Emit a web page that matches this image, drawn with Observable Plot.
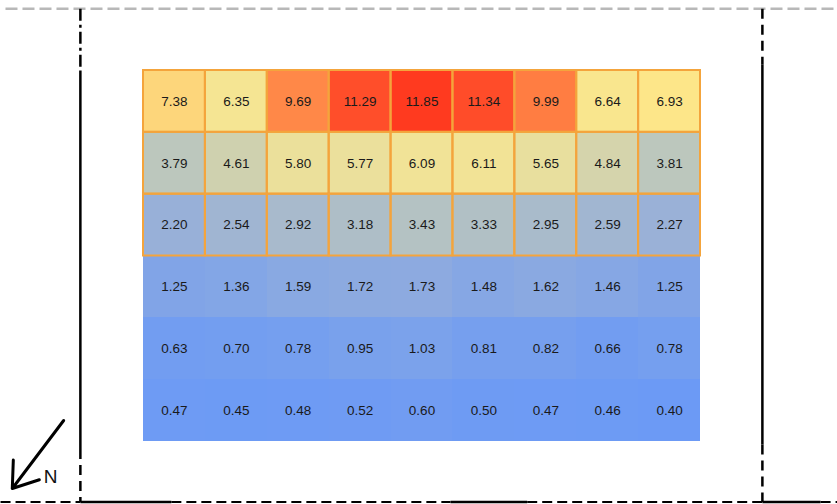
<!DOCTYPE html>
<html>
<head>
<meta charset="utf-8">
<script src="https://cdn.jsdelivr.net/npm/d3@7"></script>
<script src="https://cdn.jsdelivr.net/npm/@observablehq/plot@0.6"></script>
<style>
  html, body { margin: 0; padding: 0; background: #fff; }
  #chart svg { display: block; }
</style>
</head>
<body>
<div id="chart"></div>
<script>
// Grid values, top row to bottom row, 9 columns each
const row0 = [7.38, 6.35, 9.69, 11.29, 11.85, 11.34, 9.99, 6.64, 6.93];
const row1 = [3.79, 4.61, 5.80, 5.77, 6.09, 6.11, 5.65, 4.84, 3.81];
const row2 = [2.20, 2.54, 2.92, 3.18, 3.43, 3.33, 2.95, 2.59, 2.27];
const row3 = [1.25, 1.36, 1.59, 1.72, 1.73, 1.48, 1.62, 1.46, 1.25];
const row4 = [0.63, 0.70, 0.78, 0.95, 1.03, 0.81, 0.82, 0.66, 0.78];
const row5 = [0.47, 0.45, 0.48, 0.52, 0.60, 0.50, 0.47, 0.46, 0.40];
const rows = [row0, row1, row2, row3, row4, row5];
const outlinedRows = [0, 1, 2];

// Colour ramp stops
const colorStops = [0.4, 2.2, 3.8, 6.0, 6.9, 7.4, 9.8, 11.85];
const colorRamp = ["#6c9af5", "#98b0d8", "#bcc7bd", "#f0e398", "#fde78a", "#fdd57a", "#ff8446", "#ff3a1f"];

// Frame lines in grid units (columns / rows)
const solidSegs = [
  {x1: -1.02, y1: 0, x2: -1.02, y2: 6.12},
  {x1: 10, y1: -0.1, x2: 10, y2: 6.05},
  {x1: -1.02, y1: 6.98, x2: 0.45, y2: 6.98},
  {x1: 4.96, y1: 6.98, x2: 6.2, y2: 6.98},
  {x1: 10, y1: 6.98, x2: 10.94, y2: 6.98}
];
const dashedSegs = [
  {x1: -1.02, y1: 6.12, x2: -1.02, y2: 6.98},
  {x1: 10, y1: -1, x2: 10, y2: -0.1},
  {x1: 10, y1: 6.05, x2: 10, y2: 6.98}
];
const bottomDashed = [
  {x1: -2.31, y1: 6.98, x2: -1.02, y2: 6.98},
  {x1: 0.45, y1: 6.98, x2: 4.96, y2: 6.98},
  {x1: 6.2, y1: 6.98, x2: 10, y2: 6.98},
  {x1: 10.94, y1: 6.98, x2: 11.3, y2: 6.98}
];
const dashDotSegs = [{x1: -1.02, y1: -1, x2: -1.02, y2: 0}];
const grayTop = [{x1: -2.23, y1: -1, x2: 11.3, y2: -1}];
const northArrow = [{x1: -1.29, y1: 5.66, x2: -2.12, y2: 6.76}];
const northLabel = [{x: -1.5, y: 6.57, label: "N"}];

const cells = [];
rows.forEach((r, ri) => r.forEach((v, ci) => cells.push({row: ri, col: ci, value: v})));

const cw = 557 / 9, ch = 371 / 6;
const W = 837, H = 504;

const chart = Plot.plot({
  width: W, height: H,
  marginTop: 0, marginRight: 0, marginBottom: 0, marginLeft: 0,
  x: {domain: [-143 / cw, (W - 143) / cw], axis: null},
  y: {domain: [-70 / ch, (H - 70) / ch], reverse: true, axis: null},
  color: {type: "linear", domain: colorStops, range: colorRamp, interpolate: "rgb"},
  marks: [
    Plot.rect(cells, {x1: "col", x2: d => d.col + 1, y1: "row", y2: d => d.row + 1, fill: "value", inset: 0, shapeRendering: "crispEdges"}),
    Plot.rect(cells.filter(d => outlinedRows.includes(d.row)), {
      x1: "col", x2: d => d.col + 1, y1: "row", y2: d => d.row + 1,
      fill: "none", stroke: "#f4a43c", strokeWidth: 2, inset: 0
    }),
    Plot.text(cells, {
      x: d => d.col + 0.5, y: d => d.row + 0.5, text: d => d.value.toFixed(2),
      fill: "#1a1a1a", fontSize: 13.5, fontFamily: "Liberation Sans, Arial, sans-serif"
    }),
    Plot.link(grayTop, {x1: "x1", y1: "y1", x2: "x2", y2: "y2", stroke: "#b8b8b8", strokeWidth: 2.5, strokeDasharray: "12,5"}),
    Plot.link(solidSegs, {x1: "x1", y1: "y1", x2: "x2", y2: "y2", stroke: "#000", strokeWidth: 2.5}),
    Plot.link(dashedSegs, {x1: "x1", y1: "y1", x2: "x2", y2: "y2", stroke: "#000", strokeWidth: 2.5, strokeDasharray: "10,6"}),
    Plot.link(bottomDashed, {x1: "x1", y1: "y1", x2: "x2", y2: "y2", stroke: "#000", strokeWidth: 2, strokeDasharray: "10,5"}),
    Plot.link(dashDotSegs, {x1: "x1", y1: "y1", x2: "x2", y2: "y2", stroke: "#000", strokeWidth: 2.5, strokeDasharray: "12,4,3,4"}),
    Plot.arrow(northArrow, {x1: "x1", y1: "y1", x2: "x2", y2: "y2", stroke: "#000", strokeWidth: 3, headLength: 16, headAngle: 70}),
    Plot.text(northLabel, {x: "x", y: "y", text: "label", fontSize: 19, fill: "#111", fontFamily: "Liberation Sans, Arial, sans-serif"})
  ]
});
document.getElementById("chart").appendChild(chart);
</script>
</body>
</html>
